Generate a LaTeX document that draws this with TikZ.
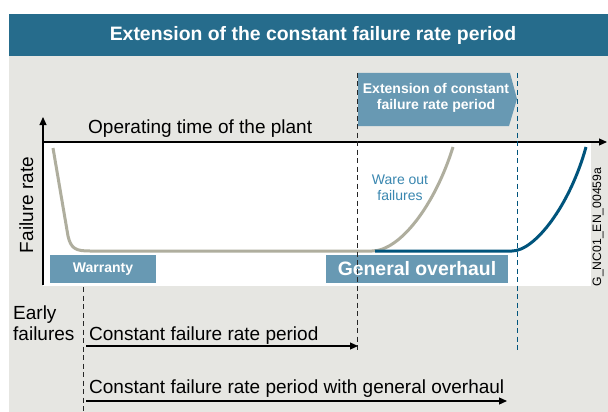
\documentclass[tikz,border=0pt]{standalone}
\usepackage{fontspec}
\setmainfont{Liberation Sans}
\usetikzlibrary{arrows.meta}
\definecolor{titleblue}{RGB}{38,108,140}
\definecolor{boxblue}{RGB}{104,153,179}
\definecolor{curveblue}{RGB}{0,84,124}
\definecolor{curvegray}{RGB}{175,174,158}
\definecolor{panel}{RGB}{230,230,226}
\definecolor{textblue}{RGB}{58,135,176}
\tikzset{
  bigtext/.style={font=\fontsize{19}{22}\selectfont, inner sep=0pt},
  boxtext/.style={text=white, font=\bfseries\fontsize{14}{16}\selectfont, inner sep=0pt},
  vdash/.style={line width=1pt, dash pattern=on 5pt off 3.5pt},
  arr/.style={line width=1.2pt, -{Triangle[length=8pt,width=7pt]}},
  curve/.style={line width=3pt}
}
\begin{document}
\begin{tikzpicture}[x=1pt,y=-1pt]
\useasboundingbox (0,0) rectangle (608,412);
\fill[white] (0,0) rectangle (608,412);
\fill[panel] (9,14) rectangle (608,412);
\fill[titleblue] (9,14) rectangle (608,56);
\node[text=white, font=\bfseries\fontsize{19.4}{22}\selectfont, inner sep=0pt] (title) at (313,35) {Extension of the constant failure rate period};

% white plot area
\fill[white] (43,141) rectangle (591,286);

% extension box
\fill[boxblue] (358,73) -- (510,73) -- (517,99) -- (509,126) -- (358,126) -- cycle;
\node[boxtext, align=center] (ext) at (436,98) {Extension of constant\\failure rate period};

% boxes
\fill[boxblue] (50,255) rectangle (156,283);
\node[boxtext] (warranty) at (103,269) {Warranty};
\fill[boxblue] (326,255) rectangle (508,283);
\node[text=white, font=\bfseries\fontsize{19.4}{22}\selectfont, inner sep=0pt] (overhaul) at (417,269) {General overhaul};

% curves
\draw[curve, curvegray] (53,148) -- (68,236) .. controls (71,249) and (76,251) .. (90,251) -- (372,251) .. controls (400,251) and (435,205) .. (453,147);
\draw[curve, curveblue] (375,251) -- (512,251) .. controls (535,251) and (570,205) .. (586,147);

% axes
\coordinate (o) at (43,285);
\coordinate (ytop) at (43,117);
\coordinate (xstart) at (43,142);
\coordinate (xend) at (607,142);
\draw[line width=1.2pt, -{Triangle[length=8pt,width=7pt]}] (o) -- (ytop);
\draw[line width=1.2pt, -{Triangle[length=8pt,width=7pt]}] (xstart) -- (xend);

% dashed lines
\coordinate (d1t) at (83,287); \coordinate (d1b) at (83,412);
\coordinate (d2t) at (357,73); \coordinate (d2b) at (357,353);
\coordinate (d3t) at (517,73); \coordinate (d3b) at (517,353);
\draw[vdash, black!85] (d1t) -- (d1b);
\draw[vdash, black!85] (d2t) -- (d2b);
\draw[vdash, curveblue] (d3t) -- (d3b);

% labels
\node[bigtext, anchor=base west] (optime) at (88,133) {Operating time of the plant};
\node[bigtext, anchor=base, rotate=90] (frate) at (33,205) {Failure rate};
\node[font=\fontsize{12.2}{14}\selectfont, inner sep=0pt, anchor=base, rotate=90] (code) at (601,227) {G\_NC01\_EN\_00459a};
\node[text=textblue, font=\fontsize{14}{16}\selectfont, inner sep=0pt, align=center] (wareout) at (400,188) {Ware out\\failures};
\node[bigtext, anchor=base west] (early1) at (13,319) {Early};
\node[bigtext, anchor=base west] (early2) at (13,340) {failures};

% period arrows
\coordinate (a1s) at (86,346); \coordinate (a1e) at (358,346);
\coordinate (a2s) at (86,401); \coordinate (a2e) at (507,401);
\draw[arr] (a1s) -- (a1e);
\draw[arr] (a2s) -- (a2e);
\node[bigtext, anchor=base west] (p1) at (89,340) {Constant failure rate period};
\node[bigtext, anchor=base west] (p2) at (89,393) {Constant failure rate period with general overhaul};
\end{tikzpicture}
\end{document}
